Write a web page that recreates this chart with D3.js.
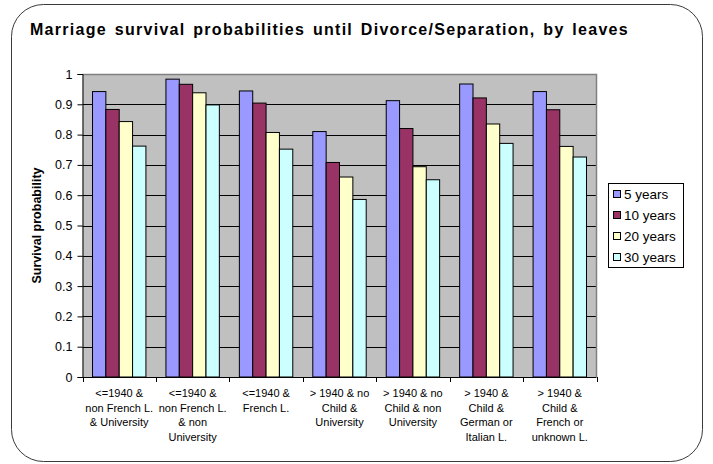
<!DOCTYPE html>
<html>
<head>
<meta charset="utf-8">
<script src="https://cdn.jsdelivr.net/npm/d3@7"></script>
<style>
  html, body { margin: 0; padding: 0; background: #fff; }
  svg { display: block; }
</style>
</head>
<body>
<svg id="chart" width="713" height="464"></svg>
<script>
// Category labels (one entry per line of the wrapped label)
const categories = [
  ["<=1940 &", "non French L.", "& University"],
  ["<=1940 &", "non French L.", "& non", "University"],
  ["<=1940 &", "French L."],
  ["> 1940 & no", "Child &", "University"],
  ["> 1940 & no", "Child & non", "University"],
  ["> 1940 &", "Child &", "German or", "Italian L."],
  ["> 1940 &", "Child &", "French or", "unknown L."]
];

const seriesNames = ["5 years", "10 years", "20 years", "30 years"];
const seriesColors = ["#9999FF", "#993366", "#FFFFCC", "#CCFFFF"];

const years5  = [0.942, 0.983, 0.944, 0.810, 0.912, 0.967, 0.942];
const years10 = [0.883, 0.966, 0.904, 0.708, 0.820, 0.921, 0.882];
const years20 = [0.843, 0.938, 0.807, 0.660, 0.694, 0.835, 0.761];
const years30 = [0.762, 0.898, 0.752, 0.586, 0.651, 0.771, 0.726];
const seriesValues = [years5, years10, years20, years30];

const yTicks = [0, 0.1, 0.2, 0.3, 0.4, 0.5, 0.6, 0.7, 0.8, 0.9, 1];

const svg = d3.select("#chart");
const plot = { left: 82.5, right: 596.5, top: 74, bottom: 377 };

// Rounded outer frame
svg.append("rect")
  .attr("x", 11.5).attr("y", 4.5)
  .attr("width", 691).attr("height", 457)
  .attr("rx", 32).attr("ry", 32)
  .attr("fill", "#fff")
  .attr("stroke", "#3a3a3a")
  .attr("stroke-width", 1);

// Title: tracked out evenly so the line spans its full width
const titleText = "Marriage survival probabilities until Divorce/Separation, by leaves";
const title = svg.append("text")
  .attr("x", 30).attr("y", 35)
  .attr("font-family", "Liberation Sans, Arial, sans-serif")
  .attr("font-weight", "bold")
  .attr("font-size", 16)
  .attr("fill", "#000")
  .text(titleText);
const wordGap = 2;
title.attr("word-spacing", wordGap);
const tw = title.node().getComputedTextLength();
title.attr("letter-spacing", Math.max(0, (599 - tw) / titleText.length));

const x0 = d3.scaleBand()
  .domain(d3.range(categories.length))
  .range([plot.left, plot.right])
  .padding(0);

const gapRatio = 1.5;
const barW = x0.bandwidth() / (seriesNames.length + gapRatio);
const x1 = d3.scaleBand()
  .domain(d3.range(seriesNames.length))
  .range([barW * gapRatio / 2, x0.bandwidth() - barW * gapRatio / 2])
  .padding(0);

const y = d3.scaleLinear().domain([0, 1]).range([plot.bottom, plot.top]);

// Plot background
svg.append("rect")
  .attr("x", plot.left).attr("y", plot.top)
  .attr("width", plot.right - plot.left).attr("height", plot.bottom - plot.top)
  .attr("fill", "#C0C0C0");

// Horizontal gridlines
svg.append("g")
  .selectAll("line")
  .data(yTicks.filter(d => d > 0 && d < 1))
  .join("line")
  .attr("x1", plot.left).attr("x2", plot.right)
  .attr("y1", d => Math.round(y(d)) + 0.5).attr("y2", d => Math.round(y(d)) + 0.5)
  .attr("stroke", "#000").attr("stroke-width", 1);

// Plot border (top and right)
svg.append("path")
  .attr("d", `M${plot.left},${plot.top + 0.5}H${plot.right}V${plot.bottom}`)
  .attr("fill", "none").attr("stroke", "#808080").attr("stroke-width", 1.5);

// Bars
const groups = svg.append("g")
  .selectAll("g")
  .data(categories.map((c, i) => i))
  .join("g")
  .attr("transform", i => `translate(${x0(i)},0)`);

groups.selectAll("rect")
  .data(i => seriesValues.map((vals, s) => ({ s, v: vals[i] })))
  .join("rect")
  .attr("x", d => x1(d.s))
  .attr("y", d => y(d.v))
  .attr("width", x1.bandwidth())
  .attr("height", d => plot.bottom - y(d.v))
  .attr("fill", d => seriesColors[d.s])
  .attr("stroke", "#000")
  .attr("stroke-width", 1);

// Y axis
const yAxis = d3.axisLeft(y)
  .tickValues(yTicks)
  .tickSize(5)
  .tickPadding(5)
  .tickFormat(d => d === 0 ? "0" : d === 1 ? "1" : d3.format(".1f")(d));
const gy = svg.append("g")
  .attr("transform", `translate(${plot.left},0)`)
  .call(yAxis);
gy.select(".domain").attr("stroke", "#000");
gy.selectAll(".tick line").attr("stroke", "#000");
gy.selectAll(".tick text")
  .attr("font-family", "Liberation Sans, Arial, sans-serif")
  .attr("font-size", 12.5)
  .attr("fill", "#000");

// X axis with ticks at category boundaries
svg.append("line")
  .attr("x1", plot.left).attr("x2", plot.right)
  .attr("y1", plot.bottom + 0.5).attr("y2", plot.bottom + 0.5)
  .attr("stroke", "#000");
svg.append("g")
  .selectAll("line")
  .data(d3.range(categories.length + 1))
  .join("line")
  .attr("x1", i => Math.round(plot.left + i * x0.bandwidth()) + 0.5)
  .attr("x2", i => Math.round(plot.left + i * x0.bandwidth()) + 0.5)
  .attr("y1", plot.bottom).attr("y2", plot.bottom + 5)
  .attr("stroke", "#000");

// Category labels
const xl = svg.append("g")
  .selectAll("text")
  .data(categories)
  .join("text")
  .attr("x", (d, i) => x0(i) + x0.bandwidth() / 2)
  .attr("y", 397)
  .attr("text-anchor", "middle")
  .attr("font-family", "Liberation Sans, Arial, sans-serif")
  .attr("font-size", 11)
  .attr("fill", "#000");
xl.selectAll("tspan")
  .data(d => d)
  .join("tspan")
  .attr("x", function () { return this.parentNode.getAttribute("x"); })
  .attr("dy", (d, i) => i === 0 ? 0 : 14.5)
  .text(d => d);

// Y axis title
svg.append("text")
  .attr("transform", `translate(41,${(plot.top + plot.bottom) / 2}) rotate(-90)`)
  .attr("text-anchor", "middle")
  .attr("font-family", "Liberation Sans, Arial, sans-serif")
  .attr("font-weight", "bold")
  .attr("font-size", 12.5)
  .attr("fill", "#000")
  .text("Survival probability");

// Legend
const legend = svg.append("g");
legend.append("rect")
  .attr("x", 608.5).attr("y", 183.5)
  .attr("width", 75).attr("height", 84)
  .attr("fill", "#fff").attr("stroke", "#000");
const items = legend.selectAll("g")
  .data(seriesNames)
  .join("g")
  .attr("transform", (d, i) => `translate(613,${194 + i * 21})`);
items.append("rect")
  .attr("x", 0.5).attr("y", -3.5)
  .attr("width", 7).attr("height", 7)
  .attr("fill", (d, i) => seriesColors[i])
  .attr("stroke", "#000");
items.append("text")
  .attr("x", 11).attr("y", 5)
  .attr("font-family", "Liberation Sans, Arial, sans-serif")
  .attr("font-size", 13.5)
  .attr("fill", "#000")
  .text(d => d);
</script>
</body>
</html>
